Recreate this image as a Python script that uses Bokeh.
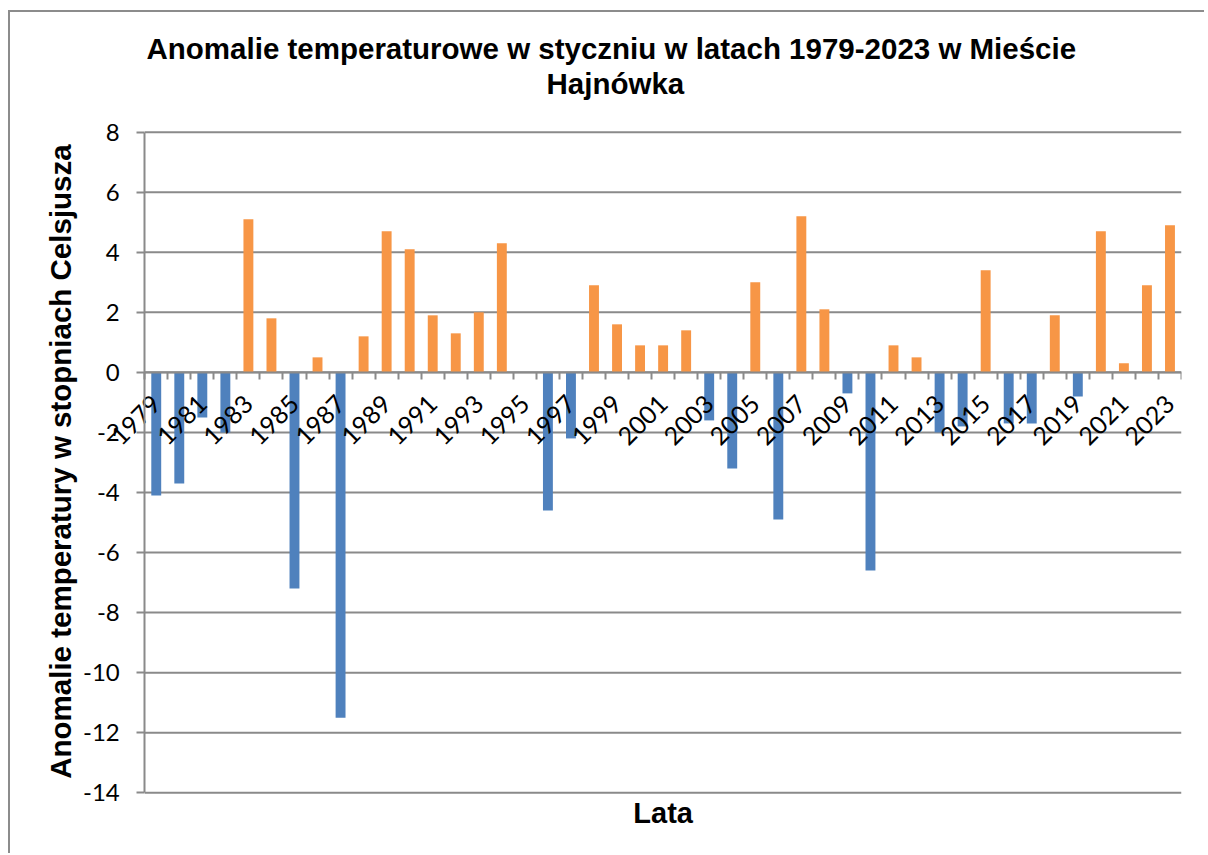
import math
from bokeh.plotting import figure
from bokeh.models import (Range1d, LinearAxis, FixedTicker,
                          ColumnDataSource, CustomJSTickFormatter)
from bokeh.core.properties import value
from bokeh.embed import file_html
from bokeh.resources import INLINE

# ---------------- data ----------------
years = ["1979", "1980", "1981", "1982", "1983", "1984", "1985", "1986", "1987", "1988",
         "1989", "1990", "1991", "1992", "1993", "1994", "1995", "1996", "1997", "1998",
         "1999", "2000", "2001", "2002", "2003", "2004", "2005", "2006", "2007", "2008",
         "2009", "2010", "2011", "2012", "2013", "2014", "2015", "2016", "2017", "2018",
         "2019", "2020", "2021", "2022", "2023"]
anomalies = [-4.1, -3.7, -1.5, -2.0, 5.1, 1.8, -7.2, 0.5, -11.5, 1.2,
             4.7, 4.1, 1.9, 1.3, 2.0, 4.3, 0.0, -4.6, -2.2, 2.9,
             1.6, 0.9, 0.9, 1.4, -1.6, -3.2, 3.0, -4.9, 5.2, 2.1,
             -0.7, -6.6, 0.9, 0.5, -2.0, -1.8, 3.4, -1.7, -1.7, 1.9,
             -0.8, 4.7, 0.3, 2.9, 4.9]
y_ticks = [-14, -12, -10, -8, -6, -4, -2, 0, 2, 4, 6, 8]
title_lines = ["Anomalie temperaturowe  w styczniu w latach 1979-2023 w Mieście", "Hajnówka"]
y_title = "Anomalie temperatury w stopniach Celsjusza"
x_title = "Lata"

NEG_COLOR = "#4f81bd"
POS_COLOR = "#f79646"
GRID = "#8a8a8a"
BOLD_FONT = "Liberation Sans"
TICK_FONT = "Lato"

n = len(years)
pos = [i + 0.5 for i in range(n)]           # category centres
colors = [NEG_COLOR if v < 0 else POS_COLOR for v in anomalies]
src = ColumnDataSource(dict(year=years, x=pos, value=anomalies, color=colors))

# the frame spans the whole chart so that titles and labels are drawn inside it
X_LEFT = -5.826
Y_TOP, Y_BOTTOM = 11.985, -16.09

p = figure(x_range=Range1d(X_LEFT, n), y_range=Range1d(Y_BOTTOM, Y_TOP),
           width=1196, height=843, output_backend="svg", toolbar_location=None,
           min_border_left=0, min_border_right=25, min_border_top=0, min_border_bottom=0)
p.styles = {"margin-left": "8px", "margin-top": "10px",
            "border-left": "2px solid #8c8c8c", "border-top": "2px solid #8c8c8c"}
p.outline_line_color = None
p.background_fill_color = "white"
p.border_fill_color = "white"
p.xgrid.visible = False
p.ygrid.visible = False

# horizontal gridlines over the plotting area only
p.segment(x0=[0] * len(y_ticks), x1=[n] * len(y_ticks), y0=y_ticks, y1=y_ticks,
          line_color=GRID, line_width=2)

p.vbar(x="x", top="value", bottom=0, width=0.43, fill_color="color", line_color=None, source=src)

# y axis (at the left edge of the plotting area)
ya = p.yaxis[0]
ya.fixed_location = 0
ya.ticker = FixedTicker(ticks=y_ticks)
ya.bounds = (y_ticks[0], y_ticks[-1])
ya.formatter = CustomJSTickFormatter(code="return tick.toFixed(0);")
ya.axis_line_color = GRID
ya.axis_line_width = 2
ya.major_tick_out = 8
ya.major_tick_in = 0
ya.major_tick_line_color = GRID
ya.major_tick_line_width = 2
ya.minor_tick_line_color = None
ya.major_label_text_font = TICK_FONT
ya.major_label_text_font_size = "24px"
ya.major_label_text_color = "black"
ya.major_label_standoff = 17

# x axis at zero: labels at every second category centre
xa = p.xaxis[0]
xa.ticker = FixedTicker(ticks=pos[::2])
xa.bounds = (0, n)
xa.formatter = CustomJSTickFormatter(args=dict(years=years),
                                     code="return years[Math.round(tick - 0.5)];")
xa.fixed_location = 0
xa.axis_line_color = GRID
xa.axis_line_width = 2
xa.major_tick_out = 0
xa.major_tick_in = 0
xa.minor_tick_line_color = None
xa.major_label_orientation = math.pi / 4
xa.major_label_text_font = TICK_FONT
xa.major_label_text_font_size = "25px"
xa.major_label_text_color = "black"
xa.major_label_standoff = 27

# boundary ticks between categories
ta = LinearAxis(ticker=FixedTicker(ticks=list(range(n + 1))), fixed_location=0, bounds=(0, n),
                formatter=CustomJSTickFormatter(code="return '';"))
ta.axis_line_color = None
ta.major_tick_out = 7
ta.major_tick_in = 0
ta.major_tick_line_color = GRID
ta.major_tick_line_width = 2
ta.minor_tick_line_color = None
p.add_layout(ta, "below")

# chart title (two centred lines), x-axis title and y-axis title
p.text(x=[20.43, 20.43], y=[10.78, 9.61], text=title_lines,
       text_align="center", text_baseline="alphabetic",
       text_font=value(BOLD_FONT), text_font_style="bold", text_font_size="29.5px",
       text_color="black")
p.text(x=[n / 2], y=[-14.66], text=[x_title],
       text_align="center", text_baseline="alphabetic",
       text_font=value(BOLD_FONT), text_font_style="bold", text_font_size="29px",
       text_color="black")
p.text(x=[-3.652], y=[-2.97], text=[y_title], angle=math.pi / 2,
       text_align="center", text_baseline="alphabetic",
       text_font=value(BOLD_FONT), text_font_style="bold", text_font_size="29.5px",
       text_color="black")

open("out.html", "w").write(file_html(p, INLINE))
